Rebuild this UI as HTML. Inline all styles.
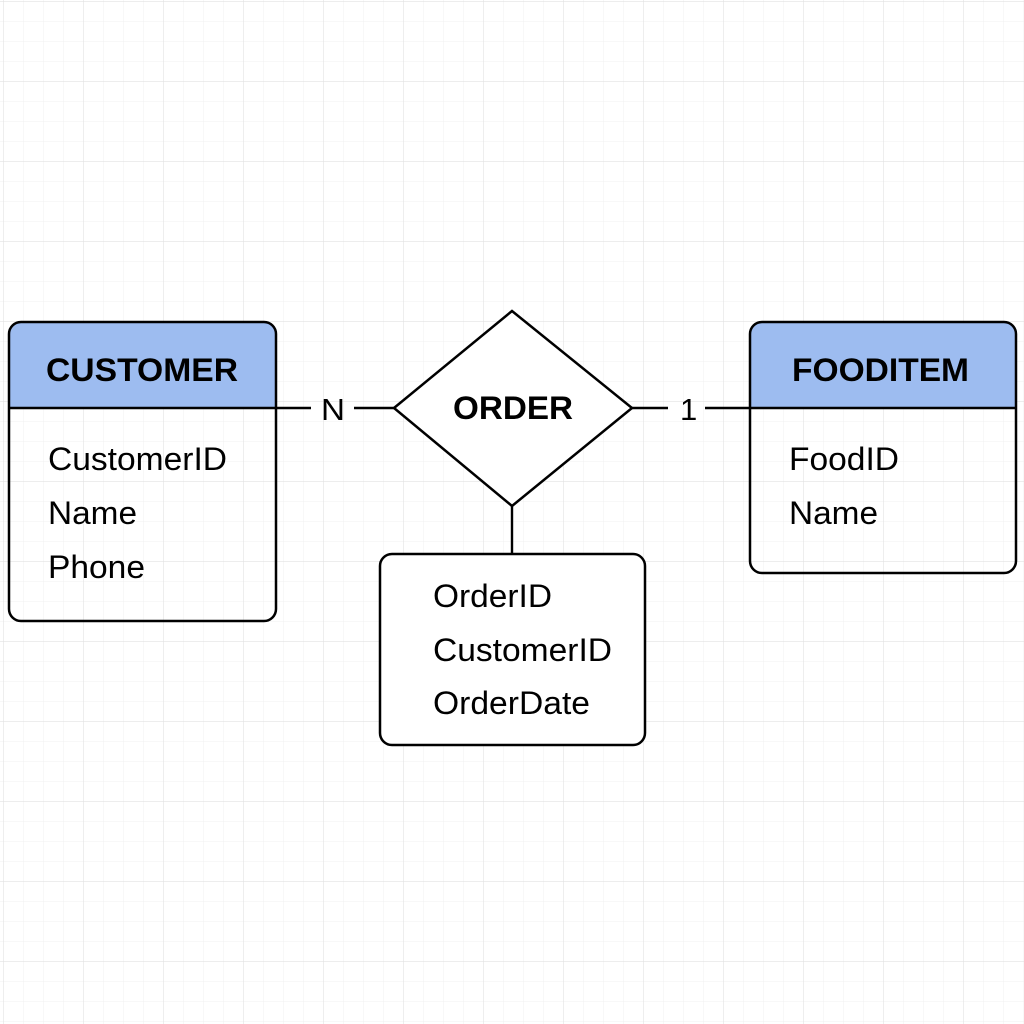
<!DOCTYPE html>
<html><head><meta charset="utf-8"><style>
html,body{margin:0;padding:0;background:#fff}
svg{display:block}
text{font-family:"Liberation Sans",Arial,sans-serif;fill:#000}
</style></head><body>
<svg width="1024" height="1024" viewBox="0 0 1024 1024" xmlns="http://www.w3.org/2000/svg">
<defs>
<pattern id="minor" x="3" y="1" width="20" height="20" patternUnits="userSpaceOnUse">
<path d="M0 0H20M0 0V20" stroke="#f1f1f1" stroke-width="1" fill="none"/>
</pattern>
<pattern id="major" x="3" y="1" width="80" height="80" patternUnits="userSpaceOnUse">
<path d="M0 0H80M0 0V80" stroke="#e2e2e2" stroke-width="1.2" fill="none"/>
</pattern>
</defs>
<rect width="1024" height="1024" fill="#fff"/>
<rect width="1024" height="1024" fill="url(#minor)"/>
<rect width="1024" height="1024" fill="url(#major)"/>

<g stroke="#000" stroke-width="2.4" fill="none">
<line x1="276" y1="408" x2="311" y2="408"/>
<line x1="354" y1="408" x2="394" y2="408"/>
<line x1="632" y1="408" x2="668" y2="408"/>
<line x1="705" y1="408" x2="750" y2="408"/>
<line x1="512" y1="506" x2="512" y2="554"/>
</g>
<text x="321" y="420" font-size="31" textLength="24" lengthAdjust="spacingAndGlyphs">N</text>
<text x="680" y="420" font-size="31">1</text>

<path d="M9 408V334a12 12 0 0 1 12-12H264a12 12 0 0 1 12 12V408Z" fill="#9dbcf0"/>
<rect x="9" y="322" width="267" height="299" rx="12" fill="none" stroke="#000" stroke-width="2.5"/>
<line x1="9" y1="408" x2="276" y2="408" stroke="#000" stroke-width="2.5"/>
<text x="46" y="381" font-size="32" font-weight="bold" textLength="192" lengthAdjust="spacingAndGlyphs">CUSTOMER</text>
<text x="48" y="470" font-size="32" textLength="179" lengthAdjust="spacingAndGlyphs">CustomerID</text>
<text x="48" y="524" font-size="32" textLength="89" lengthAdjust="spacingAndGlyphs">Name</text>
<text x="48" y="578" font-size="32" textLength="97" lengthAdjust="spacingAndGlyphs">Phone</text>

<path d="M750 408V334a12 12 0 0 1 12-12H1004a12 12 0 0 1 12 12V408Z" fill="#9dbcf0"/>
<rect x="750" y="322" width="266" height="251" rx="12" fill="none" stroke="#000" stroke-width="2.5"/>
<line x1="750" y1="408" x2="1016" y2="408" stroke="#000" stroke-width="2.5"/>
<text x="792" y="381" font-size="32" font-weight="bold" textLength="177" lengthAdjust="spacingAndGlyphs">FOODITEM</text>
<text x="789" y="470" font-size="32" textLength="110" lengthAdjust="spacingAndGlyphs">FoodID</text>
<text x="789" y="524" font-size="32" textLength="89" lengthAdjust="spacingAndGlyphs">Name</text>

<polygon points="394,408 512,311 632,408 512,506" fill="#fff" stroke="#000" stroke-width="2.5"/>
<text x="453" y="419" font-size="32" font-weight="bold" textLength="120" lengthAdjust="spacingAndGlyphs">ORDER</text>

<rect x="380" y="554" width="265" height="191" rx="12" fill="#fff" stroke="#000" stroke-width="2.5"/>
<text x="433" y="607" font-size="32" textLength="119" lengthAdjust="spacingAndGlyphs">OrderID</text>
<text x="433" y="661" font-size="32" textLength="179" lengthAdjust="spacingAndGlyphs">CustomerID</text>
<text x="433" y="714" font-size="32" textLength="157" lengthAdjust="spacingAndGlyphs">OrderDate</text>
</svg>
</body></html>
